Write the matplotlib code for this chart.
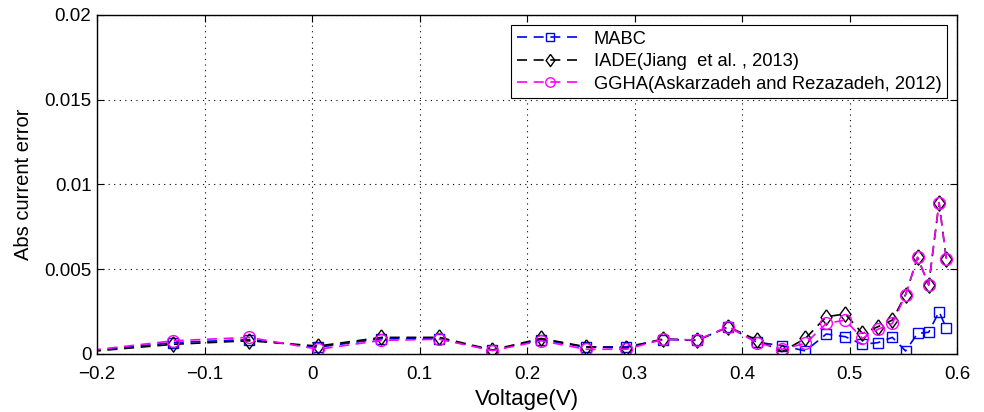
import numpy as np
import matplotlib.pyplot as plt

plt.rcParams['font.family'] = ['Liberation Sans', 'DejaVu Sans']

voltage = [-0.2057, -0.1291, -0.0588, 0.0057, 0.0646, 0.1185, 0.1678, 0.2132,
           0.2545, 0.2924, 0.3269, 0.3585, 0.3873, 0.4137, 0.4373, 0.4590,
           0.4784, 0.4960, 0.5119, 0.5265, 0.5398, 0.5521, 0.5633, 0.5736,
           0.5833, 0.5900]

mabc = [0.00018, 0.00067, 0.00085, 0.00040, 0.00090, 0.00090, 0.00022, 0.00085,
        0.00040, 0.00043, 0.00085, 0.00082, 0.00160, 0.00070, 0.00049, 0.00018,
        0.00118, 0.00102, 0.00057, 0.00067, 0.00098, 0.00018, 0.00122, 0.00128,
        0.00250, 0.00152]

iade = [0.00015, 0.00057, 0.00078, 0.00047, 0.00098, 0.00098, 0.00024, 0.00092,
        0.00043, 0.00035, 0.00090, 0.00080, 0.00160, 0.00083, 0.00014, 0.00092,
        0.00220, 0.00236, 0.00122, 0.00161, 0.00200, 0.00350, 0.00570, 0.00407,
        0.00893, 0.00559]

ggha = [0.00022, 0.00078, 0.00098, 0.00028, 0.00080, 0.00087, 0.00020, 0.00078,
        0.00028, 0.00028, 0.00087, 0.00083, 0.00161, 0.00067, 0.00028, 0.00063,
        0.00180, 0.00200, 0.00092, 0.00146, 0.00180, 0.00348, 0.00570, 0.00407,
        0.00893, 0.00559]

# matlab-like diamond, a bit taller than wide
diamond = [(0, 1), (0.72, 0), (0, -1), (-0.72, 0), (0, 1)]

fig = plt.figure(figsize=(9.84, 4.12), dpi=100)
ax = fig.add_axes([0.0986, 0.1408, 0.874, 0.8228])

ax.plot(voltage, mabc, '--', color='blue', marker='s', mfc='none', ms=7,
        mew=1.0, lw=1.2, dashes=(6, 4), label='MABC')
ax.plot(voltage, iade, '--', color='black', marker=diamond, mfc='none', ms=11,
        mew=1.0, lw=1.2, dashes=(6, 4), label='IADE(Jiang  et al. , 2013)')
ax.plot(voltage, ggha, '--', color='magenta', marker='o', mfc='none', ms=8.5,
        mew=1.0, lw=1.2, dashes=(6, 4), label='GGHA(Askarzadeh and Rezazadeh, 2012)')

ax.set_xlim(-0.2, 0.6)
ax.set_ylim(0, 0.02)
ax.set_xticks(np.arange(-0.2, 0.61, 0.1))
ax.set_xticklabels(['\u22120.2', '\u22120.1', '0', '0.1', '0.2', '0.3', '0.4', '0.5', '0.6'])
ax.set_yticks([0, 0.005, 0.01, 0.015, 0.02])
ax.set_yticklabels(['0', '0.005', '0.01', '0.015', '0.02'])
ax.tick_params(direction='in', top=True, right=True, labelsize=13.5, length=5)
ax.tick_params(axis='x', pad=9)
ax.tick_params(axis='y', pad=4)
ax.grid(True, linestyle=(0, (1, 4)), color='black', lw=0.8)
for s in ax.spines.values():
    s.set_linewidth(1.0)

ax.set_xlabel('Voltage(V)', fontsize=16, labelpad=4)
ax.set_ylabel('Abs current error', fontsize=14.5, labelpad=8)

leg = ax.legend(loc='upper right', fontsize=13.2, handlelength=3.6,
                fancybox=False, edgecolor='black', framealpha=1,
                borderaxespad=0.55, labelspacing=0.3, borderpad=0.3,
                handletextpad=0.6, markerscale=0.8)
leg.get_frame().set_linewidth(0.8)

plt.savefig('out.png', dpi=100)
